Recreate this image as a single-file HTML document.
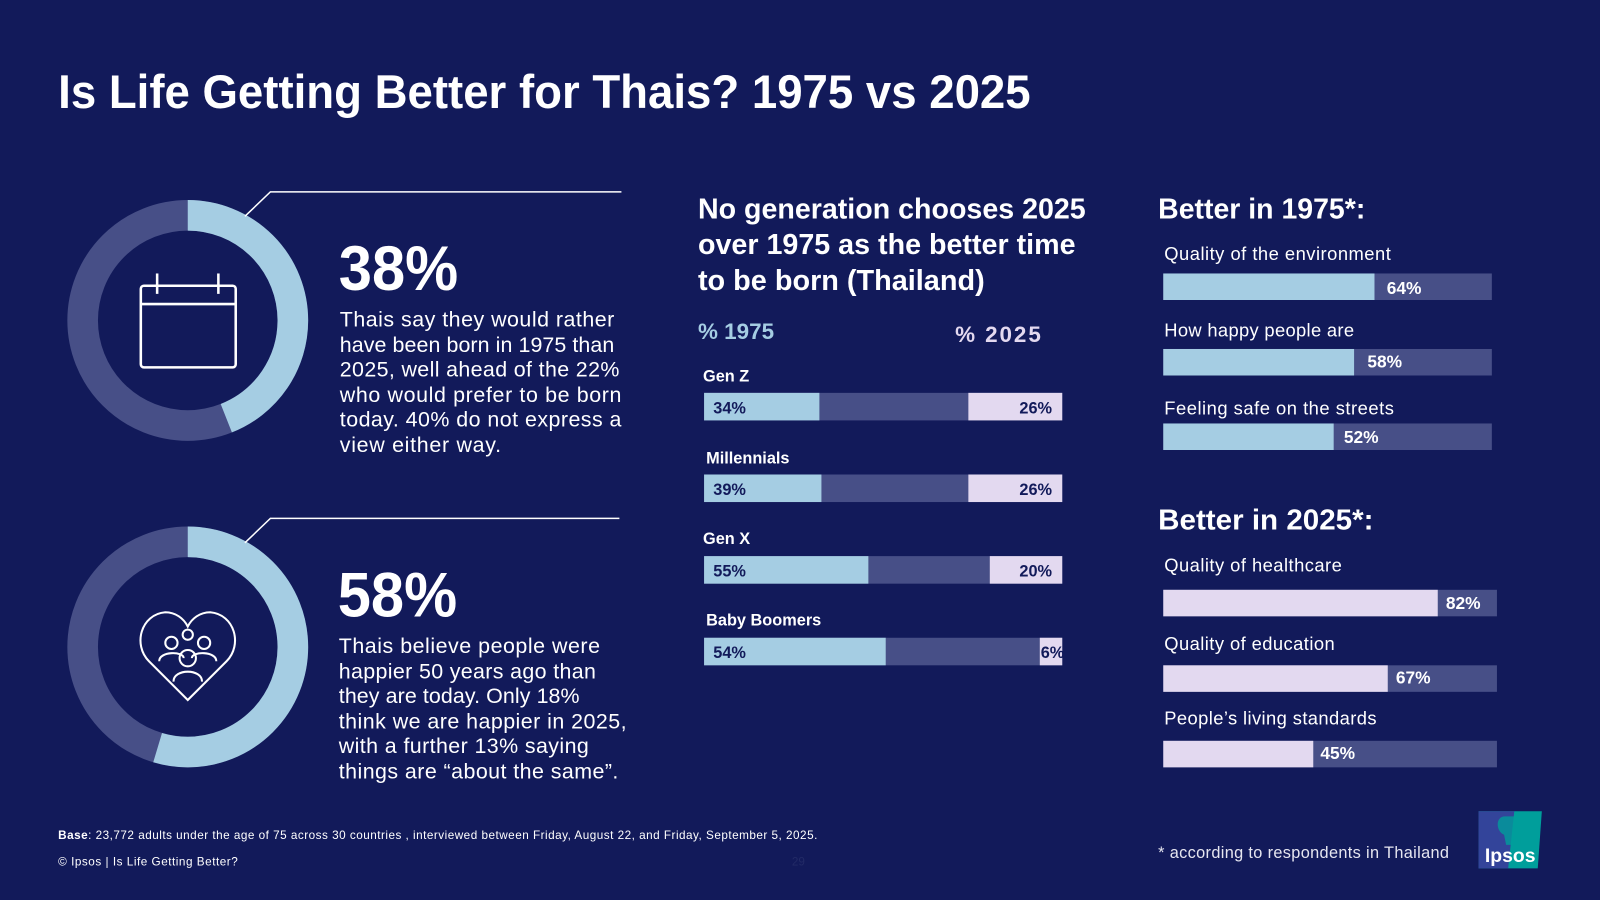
<!DOCTYPE html>
<html><head><meta charset="utf-8"><style>html,body{margin:0;padding:0;background:#121a5a;}svg{display:block}</style></head>
<body>
<svg width="1600" height="900" viewBox="0 0 1568 882" preserveAspectRatio="none" xmlns="http://www.w3.org/2000/svg" font-family="Liberation Sans, sans-serif">
<rect width="1568" height="882" fill="#121a5a"/>
<text x="57" y="106" fill="#fff" font-size="46" font-weight="bold" textLength="953" lengthAdjust="spacingAndGlyphs">Is Life Getting Better for Thais? 1975 vs 2025</text>

<!-- donut 1 -->
<circle cx="184" cy="314" r="103" fill="none" stroke="#474f87" stroke-width="30"/>
<circle cx="184" cy="314" r="103" fill="none" stroke="#a5cde3" stroke-width="30" stroke-dasharray="284.8 1000" transform="rotate(-90 184 314)"/>
<polyline points="240,212 265,188 609,188" fill="none" stroke="#fff" stroke-width="1.5"/>
<g fill="none" stroke="#fff" stroke-width="2.5">
<rect x="138" y="280" width="93" height="80" rx="3"/>
<line x1="138" y1="298" x2="231" y2="298"/>
<line x1="154" y1="268" x2="154" y2="288"/><line x1="214" y1="268" x2="214" y2="288"/>
</g>
<text x="332" y="284" fill="#fff" font-size="62" font-weight="bold" textLength="117" lengthAdjust="spacingAndGlyphs">38%</text>
<g fill="#fff" font-size="21">
<text x="333" y="320" textLength="269">Thais say they would rather</text>
<text x="333" y="345" textLength="269">have been born in 1975 than</text>
<text x="333" y="369" textLength="274">2025, well ahead of the 22%</text>
<text x="333" y="394" textLength="276">who would prefer to be born</text>
<text x="333" y="418" textLength="276">today. 40% do not express a</text>
<text x="333" y="443" textLength="158">view either way.</text>
</g>

<!-- donut 2 -->
<circle cx="184" cy="634" r="103" fill="none" stroke="#474f87" stroke-width="30"/>
<circle cx="184" cy="634" r="103" fill="none" stroke="#a5cde3" stroke-width="30" stroke-dasharray="353.4 1000" transform="rotate(-90 184 634)"/>
<polyline points="240,532 265,508 607,508" fill="none" stroke="#fff" stroke-width="1.5"/>
<g fill="none" stroke="#fff" stroke-width="2">
<path d="M184,686 L146,648 C130,632 138,602 162,600 C172,600 180,606 184,614 C188,606 196,600 206,600 C230,602 238,632 222,648 Z"/>
<circle cx="184" cy="645" r="8"/><path d="M170,668 C170,655 198,655 198,668"/>
<circle cx="168" cy="630" r="6"/><circle cx="200" cy="630" r="6"/>
<path d="M156,648 C156,638 180,638 180,645"/><path d="M188,645 C188,638 212,638 212,648"/>
<circle cx="184" cy="622" r="5"/>
</g>
<text x="331" y="604" fill="#fff" font-size="62" font-weight="bold" textLength="117" lengthAdjust="spacingAndGlyphs">58%</text>
<g fill="#fff" font-size="21">
<text x="332" y="640" textLength="256">Thais believe people were</text>
<text x="332" y="665" textLength="252">happier 50 years ago than</text>
<text x="332" y="689" textLength="236">they are today. Only 18%</text>
<text x="332" y="714" textLength="282">think we are happier in 2025,</text>
<text x="332" y="738" textLength="245">with a further 13% saying</text>
<text x="332" y="763" textLength="274">things are “about the same”.</text>
</g>

<!-- middle -->
<g fill="#fff" font-size="28" font-weight="bold">
<text x="684" y="214" textLength="380" lengthAdjust="spacingAndGlyphs">No generation chooses 2025</text>
<text x="684" y="249" textLength="370" lengthAdjust="spacingAndGlyphs">over 1975 as the better time</text>
<text x="684" y="284" textLength="281" lengthAdjust="spacingAndGlyphs">to be born (Thailand)</text>
</g>
<text x="684" y="332" fill="#a5cde3" font-size="22" font-weight="bold">% 1975</text>
<text x="936" y="335" fill="#e3d9f0" font-size="22" font-weight="bold" textLength="84">% 2025</text>
<g font-size="16" font-weight="bold">
<text x="689" y="374" fill="#fff">Gen Z</text>
<rect x="690" y="385" width="351" height="27" fill="#474f87"/>
<rect x="690" y="385" width="113" height="27" fill="#a5cde3"/>
<rect x="949" y="385" width="92" height="27" fill="#e3d9f0"/>
<text x="699" y="405" fill="#121a5a">34%</text><text x="1031" y="405" fill="#121a5a" text-anchor="end">26%</text>

<text x="692" y="454" fill="#fff">Millennials</text>
<rect x="690" y="465" width="351" height="27" fill="#474f87"/>
<rect x="690" y="465" width="115" height="27" fill="#a5cde3"/>
<rect x="949" y="465" width="92" height="27" fill="#e3d9f0"/>
<text x="699" y="485" fill="#121a5a">39%</text><text x="1031" y="485" fill="#121a5a" text-anchor="end">26%</text>

<text x="689" y="533" fill="#fff">Gen X</text>
<rect x="690" y="545" width="351" height="27" fill="#474f87"/>
<rect x="690" y="545" width="161" height="27" fill="#a5cde3"/>
<rect x="970" y="545" width="71" height="27" fill="#e3d9f0"/>
<text x="699" y="565" fill="#121a5a">55%</text><text x="1031" y="565" fill="#121a5a" text-anchor="end">20%</text>

<text x="692" y="613" fill="#fff">Baby Boomers</text>
<rect x="690" y="625" width="351" height="27" fill="#474f87"/>
<rect x="690" y="625" width="178" height="27" fill="#a5cde3"/>
<rect x="1019" y="625" width="22" height="27" fill="#e3d9f0"/>
<text x="699" y="645" fill="#121a5a">54%</text><text x="1043" y="645" fill="#121a5a" text-anchor="end">6%</text>
</g>

<!-- right -->
<text x="1135" y="214" fill="#fff" font-size="28" font-weight="bold" textLength="203" lengthAdjust="spacingAndGlyphs">Better in 1975*:</text>
<text x="1135" y="519" fill="#fff" font-size="28" font-weight="bold" textLength="211" lengthAdjust="spacingAndGlyphs">Better in 2025*:</text>
<g font-size="18" fill="#fff">
<text x="1141" y="255" textLength="222">Quality of the environment</text>
<text x="1141" y="330" textLength="186">How happy people are</text>
<text x="1141" y="406" textLength="225">Feeling safe on the streets</text>
<text x="1141" y="560" textLength="174">Quality of healthcare</text>
<text x="1141" y="637" textLength="167">Quality of education</text>
<text x="1141" y="710" textLength="208">People’s living standards</text>
</g>
<g font-size="17" font-weight="bold" fill="#fff">
<rect x="1140" y="268" width="322" height="26" fill="#474f87"/><rect x="1140" y="268" width="207" height="26" fill="#a5cde3"/><text x="1359" y="288">64%</text>
<rect x="1140" y="342" width="322" height="26" fill="#474f87"/><rect x="1140" y="342" width="187" height="26" fill="#a5cde3"/><text x="1340" y="360">58%</text>
<rect x="1140" y="415" width="322" height="26" fill="#474f87"/><rect x="1140" y="415" width="167" height="26" fill="#a5cde3"/><text x="1317" y="434">52%</text>
<rect x="1140" y="578" width="327" height="26" fill="#474f87"/><rect x="1140" y="578" width="269" height="26" fill="#e3d9f0"/><text x="1417" y="597">82%</text>
<rect x="1140" y="652" width="327" height="26" fill="#474f87"/><rect x="1140" y="652" width="220" height="26" fill="#e3d9f0"/><text x="1368" y="670">67%</text>
<rect x="1140" y="726" width="327" height="26" fill="#474f87"/><rect x="1140" y="726" width="147" height="26" fill="#e3d9f0"/><text x="1294" y="744">45%</text>
</g>

<!-- footer -->
<text x="57" y="822" fill="#fff" font-size="11.5" textLength="744"><tspan font-weight="bold">Base</tspan>: 23,772 adults  under the age of 75 across 30 countries , interviewed between Friday, August 22, and Friday, September 5, 2025.</text>
<text x="57" y="848" fill="#fff" font-size="11.5" textLength="176">© Ipsos | Is Life Getting Better?</text>
<text x="776" y="848" fill="#222a66" font-size="11.5">29</text>
<text x="1135" y="841" fill="#e6e6f0" font-size="16" textLength="285">* according to respondents in Thailand</text>
<g>
<path d="M1449,795 L1511,795 L1507,851 L1449,851 Z" fill="#009e9b"/>
<path d="M1449,795 L1484,795 L1478,851 L1449,851 Z" fill="#33449a"/>
<path d="M1475,800 C1465,800 1466,815 1474,818 L1476,828 L1490,828 L1490,820 C1496,818 1496,804 1488,800 Z" fill="#009e9b" opacity="0.8"/>
<text x="1480" y="845" fill="#fff" font-size="19" font-weight="bold" text-anchor="middle">Ipsos</text>
</g>
</svg>
</body></html>
